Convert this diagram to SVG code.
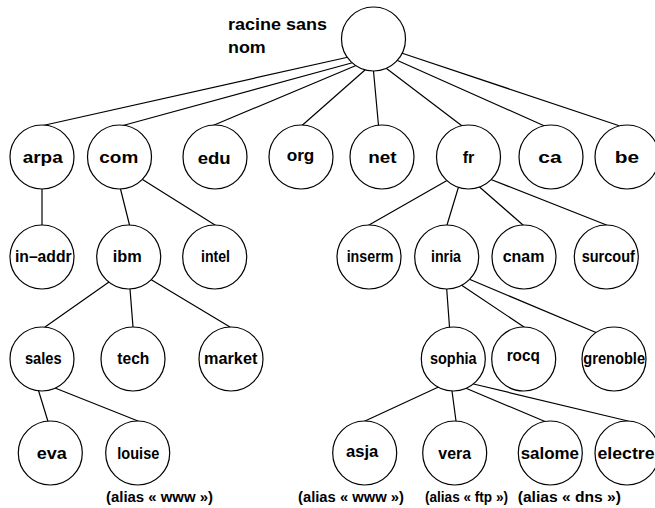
<svg xmlns="http://www.w3.org/2000/svg" width="655" height="508" viewBox="0 0 655 508">
<style>
  .bg { fill: #ffffff; }
  .node circle { fill: #ffffff; stroke: #000000; stroke-width: 1.2; }
  .edges line { stroke: #000000; stroke-width: 1.2; stroke-linecap: round; }
  text { font-family: "Liberation Sans", Arial, sans-serif; font-weight: bold; fill: #000000; }
  .lbl { font-size: 16.5px; text-anchor: middle; }
  .root { font-size: 16.5px; text-anchor: start; }
  .alias { font-size: 14px; text-anchor: start; }
</style>
<rect class="bg" x="0" y="0" width="655" height="508"/>
<g id="connectors" class="edges">
  <line x1="346.5" y1="57.5" x2="43" y2="125.5"/>
  <line x1="351.5" y1="63" x2="123" y2="125.5"/>
  <line x1="356" y1="65.5" x2="213" y2="125.5"/>
  <line x1="365" y1="70" x2="302" y2="125.5"/>
  <line x1="373.5" y1="71" x2="378.5" y2="125.5"/>
  <line x1="386.5" y1="68.5" x2="461.5" y2="125.5"/>
  <line x1="397.5" y1="60.5" x2="543.5" y2="125.5"/>
  <line x1="401.5" y1="53" x2="618.5" y2="125.5"/>
  <line x1="42" y1="189" x2="42" y2="225"/>
  <line x1="120.5" y1="189" x2="129.5" y2="225"/>
  <line x1="142.5" y1="179.5" x2="215" y2="225"/>
  <line x1="109" y1="282" x2="45" y2="327"/>
  <line x1="130" y1="289" x2="133" y2="327"/>
  <line x1="151.7" y1="280" x2="230" y2="327"/>
  <line x1="38.5" y1="390.5" x2="48" y2="421.5"/>
  <line x1="55" y1="388" x2="138" y2="421"/>
  <line x1="447" y1="180.5" x2="369" y2="225"/>
  <line x1="458.5" y1="187" x2="447" y2="225"/>
  <line x1="479.5" y1="187" x2="523" y2="225"/>
  <line x1="491" y1="179.5" x2="606.5" y2="225"/>
  <line x1="446.7" y1="289" x2="449.5" y2="327"/>
  <line x1="462" y1="285.5" x2="524" y2="327"/>
  <line x1="470" y1="279.5" x2="596" y2="332.5"/>
  <line x1="438.5" y1="387" x2="365" y2="421"/>
  <line x1="452" y1="391" x2="456" y2="421"/>
  <line x1="466" y1="388.3" x2="545" y2="421.5"/>
  <line x1="473.5" y1="384" x2="628" y2="421"/>
</g>
<g id="root" class="node">
  <circle cx="373.5" cy="39" r="32"/>
  <text class="root" x="228" y="30" textLength="99" lengthAdjust="spacingAndGlyphs">racine sans</text>
  <text class="root" x="228" y="53" textLength="37.7" lengthAdjust="spacingAndGlyphs">nom</text>
</g>
<g id="arpa" class="node"><circle cx="42" cy="157" r="32"/><text class="lbl" x="42.7" y="163" textLength="40" lengthAdjust="spacingAndGlyphs">arpa</text></g>
<g id="com" class="node"><circle cx="119.5" cy="157" r="32"/><text class="lbl" x="118.8" y="163" textLength="39" lengthAdjust="spacingAndGlyphs">com</text></g>
<g id="edu" class="node"><circle cx="215" cy="157" r="32"/><text class="lbl" x="214.2" y="163.5" textLength="33" lengthAdjust="spacingAndGlyphs">edu</text></g>
<g id="org" class="node"><circle cx="301" cy="157" r="32"/><text class="lbl" x="300.5" y="161" textLength="27.7" lengthAdjust="spacingAndGlyphs">org</text></g>
<g id="net" class="node"><circle cx="382" cy="157" r="32"/><text class="lbl" x="382.5" y="163" textLength="28.3" lengthAdjust="spacingAndGlyphs">net</text></g>
<g id="fr" class="node"><circle cx="468.5" cy="157" r="32"/><text class="lbl" x="468.5" y="163" textLength="11.7" lengthAdjust="spacingAndGlyphs">fr</text></g>
<g id="ca" class="node"><circle cx="551" cy="157" r="32"/><text class="lbl" x="550" y="163" textLength="23.3" lengthAdjust="spacingAndGlyphs">ca</text></g>
<g id="be" class="node"><circle cx="627" cy="157" r="32"/><text class="lbl" x="627" y="163" textLength="24.3" lengthAdjust="spacingAndGlyphs">be</text></g>
<g id="in-addr" class="node"><circle cx="42" cy="257" r="32"/><text class="lbl" x="43.3" y="262" textLength="56.7" lengthAdjust="spacingAndGlyphs">in–addr</text></g>
<g id="ibm" class="node"><circle cx="128.7" cy="257" r="32"/><text class="lbl" x="127.2" y="262" textLength="29" lengthAdjust="spacingAndGlyphs">ibm</text></g>
<g id="intel" class="node"><circle cx="214.7" cy="257" r="32"/><text class="lbl" x="215.5" y="262" textLength="29" lengthAdjust="spacingAndGlyphs">intel</text></g>
<g id="inserm" class="node"><circle cx="369" cy="257" r="32"/><text class="lbl" x="370" y="262" textLength="46.7" lengthAdjust="spacingAndGlyphs">inserm</text></g>
<g id="inria" class="node"><circle cx="446.7" cy="257" r="32"/><text class="lbl" x="446" y="262" textLength="30" lengthAdjust="spacingAndGlyphs">inria</text></g>
<g id="cnam" class="node"><circle cx="524" cy="257" r="32"/><text class="lbl" x="523.5" y="262" textLength="41.7" lengthAdjust="spacingAndGlyphs">cnam</text></g>
<g id="surcouf" class="node"><circle cx="606.3" cy="257" r="32"/><text class="lbl" x="608.3" y="262" textLength="53.3" lengthAdjust="spacingAndGlyphs">surcouf</text></g>
<g id="sales" class="node"><circle cx="42" cy="359" r="32"/><text class="lbl" x="43.3" y="363.5" textLength="36.7" lengthAdjust="spacingAndGlyphs">sales</text></g>
<g id="tech" class="node"><circle cx="133" cy="359" r="32"/><text class="lbl" x="133.3" y="363.5" textLength="32" lengthAdjust="spacingAndGlyphs">tech</text></g>
<g id="market" class="node"><circle cx="231" cy="359" r="32"/><text class="lbl" x="230.7" y="363.5" textLength="53.3" lengthAdjust="spacingAndGlyphs">market</text></g>
<g id="sophia" class="node"><circle cx="453.3" cy="359" r="32"/><text class="lbl" x="453.3" y="363.5" textLength="46.7" lengthAdjust="spacingAndGlyphs">sophia</text></g>
<g id="rocq" class="node"><circle cx="523.7" cy="359" r="32"/><text class="lbl" x="523.3" y="361" textLength="33.3" lengthAdjust="spacingAndGlyphs">rocq</text></g>
<g id="grenoble" class="node"><circle cx="614" cy="359" r="32"/><text class="lbl" x="614.2" y="363.5" textLength="61.7" lengthAdjust="spacingAndGlyphs">grenoble</text></g>
<g id="eva" class="node"><circle cx="50.3" cy="453" r="32"/><text class="lbl" x="51.7" y="458.5" textLength="30" lengthAdjust="spacingAndGlyphs">eva</text></g>
<g id="louise" class="node"><circle cx="137.7" cy="453" r="32"/><text class="lbl" x="138.3" y="458.5" textLength="42" lengthAdjust="spacingAndGlyphs">louise</text></g>
<g id="asja" class="node"><circle cx="364.7" cy="453" r="32"/><text class="lbl" x="362.2" y="457" textLength="32.3" lengthAdjust="spacingAndGlyphs">asja</text></g>
<g id="vera" class="node"><circle cx="454.7" cy="453" r="32"/><text class="lbl" x="454.7" y="458.5" textLength="32.7" lengthAdjust="spacingAndGlyphs">vera</text></g>
<g id="salome" class="node"><circle cx="550.3" cy="453" r="32"/><text class="lbl" x="549.8" y="458.5" textLength="58.3" lengthAdjust="spacingAndGlyphs">salome</text></g>
<g id="electre" class="node"><circle cx="627" cy="453" r="32"/><text class="lbl" x="626" y="458.5" textLength="57" lengthAdjust="spacingAndGlyphs">electre</text></g>
<g id="aliases">
  <text class="alias" x="106" y="501.5" textLength="107" lengthAdjust="spacingAndGlyphs">(alias « www »)</text>
  <text class="alias" x="298" y="501.5" textLength="106" lengthAdjust="spacingAndGlyphs">(alias « www »)</text>
  <text class="alias" x="425" y="501.5" textLength="83" lengthAdjust="spacingAndGlyphs">(alias « ftp »)</text>
  <text class="alias" x="517.7" y="501.5" textLength="103.3" lengthAdjust="spacingAndGlyphs">(alias « dns »)</text>
</g>
</svg>
